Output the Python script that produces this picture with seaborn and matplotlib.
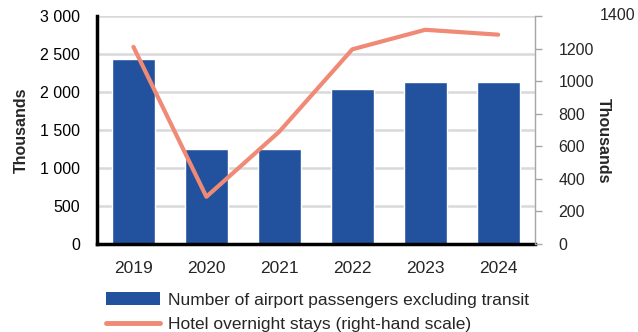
import matplotlib
matplotlib.use("Agg")
import matplotlib.pyplot as plt
import matplotlib.transforms as mtransforms
from matplotlib.lines import Line2D
from matplotlib.patches import Patch
import seaborn as sns
import pandas as pd

years = ["2019", "2020", "2021", "2022", "2023", "2024"]
passengers = [2430, 1250, 1250, 2035, 2125, 2125]      # thousands, left scale
hotel_stays = [1210, 290, 690, 1195, 1315, 1285]        # thousands, right scale

left_ticks = [0, 500, 1000, 1500, 2000, 2500, 3000]
right_ticks = [0, 200, 400, 600, 800, 1000, 1200, 1400]

bar_label = "Number of airport passengers excluding transit"
line_label = "Hotel overnight stays (right-hand scale)"

BAR_COLOR = "#22529E"
LINE_COLOR = "#F08A76"

sns.set_theme(style="white")
plt.rcParams["font.family"] = ["Liberation Sans", "DejaVu Sans"]

df = pd.DataFrame({"year": years, "passengers": passengers, "hotel": hotel_stays})

fig = plt.figure(figsize=(6.38, 3.32), dpi=100)
ax = fig.add_axes([0.152, 0.265, 0.686, 0.687])
ax2 = ax.twinx()

sns.barplot(data=df, x="year", y="passengers", color=BAR_COLOR, width=0.59,
            saturation=1, ax=ax, zorder=2)
sns.lineplot(data=df, x="year", y="hotel", color=LINE_COLOR, linewidth=3.0,
             ax=ax2, zorder=3)

ax.set_xlim(-0.5, len(years) - 0.5)
ax.set_ylim(0, 3000)
ax2.set_ylim(0, 1400)

# left scale
ax.set_yticks(left_ticks)
ax.set_yticklabels([f"{v:,}".replace(",", " ") for v in left_ticks])
ax.yaxis.grid(True, color="#D9D9D9", linewidth=1.8, zorder=0)
ax.set_axisbelow(True)
ax.tick_params(axis="y", length=0, pad=12, labelsize=11.5, colors="black")

# category axis with inward ticks at category boundaries
ax.set_xticks(range(len(years)))
ax.set_xticklabels(years, fontsize=12.5)
ax.set_xticks([i + 0.5 for i in range(len(years))], minor=True)
ax.tick_params(axis="x", which="major", length=0, pad=12)
ax.tick_params(axis="x", which="minor", direction="in", length=4, width=2, color="black")

ax.set_xlabel("")
ax.set_ylabel("Thousands", fontsize=11.5, fontweight="bold", labelpad=8)

for s in ["left", "bottom"]:
    ax.spines[s].set_color("black")
    ax.spines[s].set_linewidth(2.5)
ax.spines["top"].set_visible(False)
ax.spines["right"].set_visible(False)

# right scale; the top label sits off to the side, clear of the axis title
ax2.set_yticks(right_ticks)
ax2.set_yticklabels([str(v) for v in right_ticks[:-1]] + [""])
ax2.tick_params(axis="y", direction="out", length=5, width=1, color="#A6A6A6",
                labelsize=11.5, pad=12)
top_tf = mtransforms.blended_transform_factory(ax2.transAxes, ax2.transData)
ax2.text(1.148, right_ticks[-1], str(right_ticks[-1]), transform=top_tf,
         ha="left", va="center", fontsize=11.5)
ax2.set_ylabel("")
fig.text(603 / 638, 1 - 141 / 332, "Thousands", rotation=270, ha="center",
         va="center", fontsize=11.5, fontweight="bold")
for s in ["left", "bottom", "top"]:
    ax2.spines[s].set_visible(False)
ax2.spines["right"].set_color("#A6A6A6")
ax2.spines["right"].set_linewidth(1.0)
ax2.set_xlabel("")

handles = [Patch(facecolor=BAR_COLOR, edgecolor="none", label=bar_label),
           Line2D([0], [0], color=LINE_COLOR, linewidth=3.5, label=line_label)]
fig.legend(handles=handles, loc="upper left", bbox_to_anchor=(0.166, 0.121),
           frameon=False, prop={"size": 12.5},
           handlelength=3.1, handleheight=0.8, handletextpad=0.45,
           labelspacing=0.5, borderaxespad=0, borderpad=0)

fig.savefig("out.png", dpi=100)
